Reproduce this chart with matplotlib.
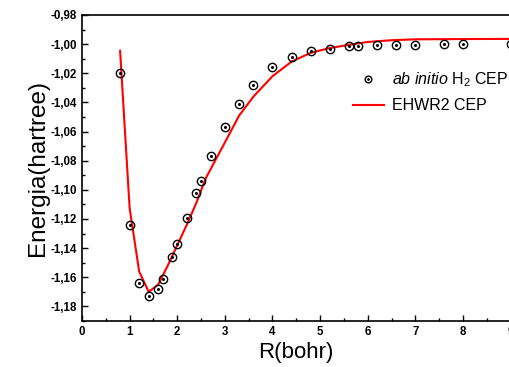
import matplotlib
matplotlib.use('Agg')
import matplotlib.pyplot as plt
from matplotlib.ticker import MultipleLocator, FuncFormatter
from matplotlib.legend_handler import HandlerTuple

plt.rcParams['font.family'] = ['Liberation Sans', 'DejaVu Sans']
plt.rcParams['mathtext.fontset'] = 'custom'
plt.rcParams['mathtext.rm'] = 'Liberation Sans'
plt.rcParams['mathtext.it'] = 'Liberation Sans:italic'

# ab initio points
r_ab = [0.8, 1.0, 1.2, 1.4, 1.6, 1.7, 1.9, 2.0, 2.2, 2.4, 2.5, 2.7, 3.0, 3.3, 3.6,
        4.0, 4.4, 4.8, 5.2, 5.6, 5.8, 6.2, 6.6, 7.0, 7.6, 8.0, 9.0]
e_ab = [-1.020, -1.124, -1.164, -1.173, -1.168, -1.161, -1.146, -1.137, -1.119, -1.102,
        -1.094, -1.077, -1.057, -1.041, -1.028, -1.016, -1.009, -1.005, -1.003, -1.001,
        -1.001, -1.0005, -1.0004, -1.0003, -1.0002, -1.0002, -1.0001]

# EHWR2 fitted curve
r_fit = [0.8, 1.0, 1.2, 1.4, 1.6, 1.8, 2.0, 2.2, 2.4, 2.6, 3.0, 3.3, 3.6, 4.0, 4.4,
         4.8, 5.2, 5.6, 6.0, 6.5, 7.0, 8.0, 9.0]
e_fit = [-1.0046, -1.1125, -1.156, -1.170, -1.165, -1.152, -1.138, -1.124, -1.109,
         -1.092, -1.0675, -1.049, -1.036, -1.022, -1.012, -1.006, -1.0027, -1.0005,
         -0.9985, -0.9973, -0.9967, -0.9965, -0.9964]

fig = plt.figure(figsize=(5.1, 3.67), dpi=100)
ax = fig.add_axes([82/510, 1 - 321/367, 428.6/510, 306/367])

ax.plot(r_fit, e_fit, color='red', lw=1.5, zorder=2)
circ, = ax.plot(r_ab, e_ab, ls='none', marker='o', ms=6, mfc='none', mec='black',
                mew=1.0, zorder=3, clip_on=False)
dot, = ax.plot(r_ab, e_ab, ls='none', marker='o', ms=1.2, color='black', zorder=3,
               clip_on=False)
line_h, = ax.plot([], [], color='red', lw=1.5)

ax.set_xlim(0, 9)
ax.set_ylim(-1.19, -0.98)
ax.xaxis.set_major_locator(MultipleLocator(1))
ax.xaxis.set_minor_locator(MultipleLocator(0.5))
ax.yaxis.set_major_locator(MultipleLocator(0.02))
ax.yaxis.set_minor_locator(MultipleLocator(0.01))
ax.yaxis.set_major_formatter(FuncFormatter(lambda v, p: ('%.2f' % v).replace('.', ',')))
ax.xaxis.set_major_formatter(FuncFormatter(lambda v, p: '%d' % v))
ax.tick_params(which='both', direction='in', labelsize=8.3, width=1.0)
ax.tick_params(which='major', length=4.5)
ax.tick_params(which='minor', length=2.5)
for lab in ax.get_xticklabels() + ax.get_yticklabels():
    lab.set_fontweight('bold')
for s in ax.spines.values():
    s.set_linewidth(1.2)

ax.set_xlabel('R(bohr)', fontsize=16, labelpad=3)
ax.set_ylabel('Energia(hartree)', fontsize=17.5, labelpad=1)

ax.legend([(circ, dot), line_h], [r'$\it{ab\ initio}$ H$_2$ CEP', 'EHWR2 CEP'],
          handler_map={tuple: HandlerTuple(ndivide=1, pad=0)},
          loc='upper left', bbox_to_anchor=(0.632, 0.818), frameon=False,
          borderpad=0, borderaxespad=0, markerscale=0.8,
          fontsize=11.5, handlelength=1.95, handletextpad=0.5, labelspacing=0.55)

fig.savefig('out.png', dpi=100)
